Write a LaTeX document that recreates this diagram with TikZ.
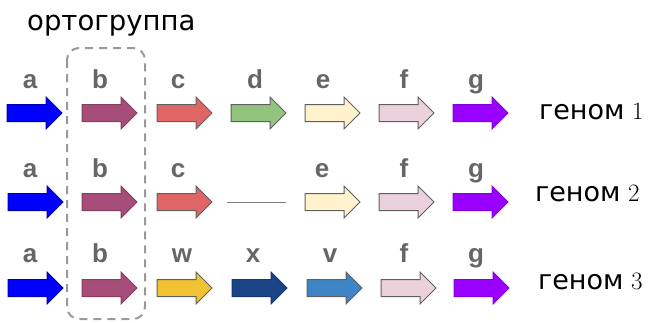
\documentclass[tikz,border=0pt]{standalone}
\usepackage{fontspec}
\setmainfont{Latin Modern Roman}
\newfontfamily\lblfont{Liberation Sans}
\newfontfamily\txtfont{DejaVu Sans}
\definecolor{cA}{HTML}{0000FF}
\definecolor{cB}{HTML}{A64D79}
\definecolor{cC}{HTML}{E06666}
\definecolor{cD}{HTML}{93C47D}
\definecolor{cE}{HTML}{FFF2CC}
\definecolor{cF}{HTML}{EAD1DC}
\definecolor{cG}{HTML}{9900FF}
\definecolor{cW}{HTML}{F1C232}
\definecolor{cX}{HTML}{1C4587}
\definecolor{cV}{HTML}{3D85C6}
\definecolor{outl}{HTML}{606060}
\definecolor{lblgray}{HTML}{666666}
\definecolor{boxgray}{HTML}{999999}
\newcommand{\genearrow}[4]{% x, y, fill, draw
  \draw[line width=1pt,fill=#3,draw=#4,line join=miter]
    (#1,#2-8.5) -- ++(39,0) -- ++(0,-7.5) -- ++(16,16) -- ++(-16,16) -- ++(0,-7.5) -- ++(-39,0) -- cycle;}
\begin{document}
\begin{tikzpicture}[x=1pt,y=-1pt,
  lbl/.style={font=\lblfont\bfseries\fontsize{26}{28}\selectfont,text=lblgray,anchor=base,inner sep=0pt},
  genome/.style={font=\fontsize{25}{28}\selectfont,anchor=base west,inner sep=0pt}]
\useasboundingbox (0,0) rectangle (649,322);
% title
\node[font=\txtfont\fontsize{27.5}{30}\selectfont,anchor=base west,inner sep=0pt] (title) at (27,30) {ортогруппа};
% orthogroup box
\draw[boxgray,line width=2pt,dash pattern=on 8pt off 6pt,rounded corners=12pt] (67,48) rectangle (145,319);
% row 1
\genearrow{7}{113}{cA}{cA!70!black}
\genearrow{82}{113}{cB}{cB!80!black}
\genearrow{157}{113}{cC}{outl}
\genearrow{231}{113}{cD}{outl}
\genearrow{305}{113}{cE}{outl}
\genearrow{379}{113}{cF}{outl}
\genearrow{453}{113}{cG}{cG!85!black}
\node[lbl] (a1) at (30,88) {a};
\node[lbl] (b1) at (100,88) {b};
\node[lbl] (c1) at (178,88) {c};
\node[lbl] (d1) at (255,88) {d};
\node[lbl] (e1) at (323,88) {e};
\node[lbl] (f1) at (404,88) {f};
\node[lbl] (g1) at (476,88) {g};
\node[genome] (r1) at (539,119) {{\txtfont\fontsize{27}{30}\selectfont геном} 1};
% row 2
\genearrow{8}{202}{cA}{cA!70!black}
\genearrow{82}{202}{cB}{cB!80!black}
\genearrow{157}{202}{cC}{outl}
\draw[outl!80,line width=1pt] (227,202) -- (286,202);
\genearrow{305}{202}{cE}{outl}
\genearrow{379}{202}{cF}{outl}
\genearrow{453}{202}{cG}{cG!85!black}
\node[lbl] (a2) at (30,177) {a};
\node[lbl] (b2) at (100,177) {b};
\node[lbl] (c2) at (178,177) {c};
\node[lbl] (e2) at (322,177) {e};
\node[lbl] (f2) at (404,177) {f};
\node[lbl] (g2) at (476,177) {g};
\node[genome] (r2) at (535,201) {{\txtfont\fontsize{27}{30}\selectfont геном} 2};
% row 3
\genearrow{8}{288}{cA}{cA!70!black}
\genearrow{82}{288}{cB}{cB!80!black}
\genearrow{157}{288}{cW}{outl}
\genearrow{232}{288}{cX}{cX!80!black}
\genearrow{307}{288}{cV}{outl}
\genearrow{381}{288}{cF}{outl}
\genearrow{454}{288}{cG}{cG!85!black}
\node[lbl] (a3) at (30,262) {a};
\node[lbl] (b3) at (100,262) {b};
\node[lbl] (w3) at (182,262) {w};
\node[lbl] (x3) at (253,262) {x};
\node[lbl] (v3) at (330,262) {v};
\node[lbl] (f3) at (404,262) {f};
\node[lbl] (g3) at (476,262) {g};
\node[genome] (r3) at (538,289) {{\txtfont\fontsize{27}{30}\selectfont геном} 3};
\end{tikzpicture}
\end{document}
